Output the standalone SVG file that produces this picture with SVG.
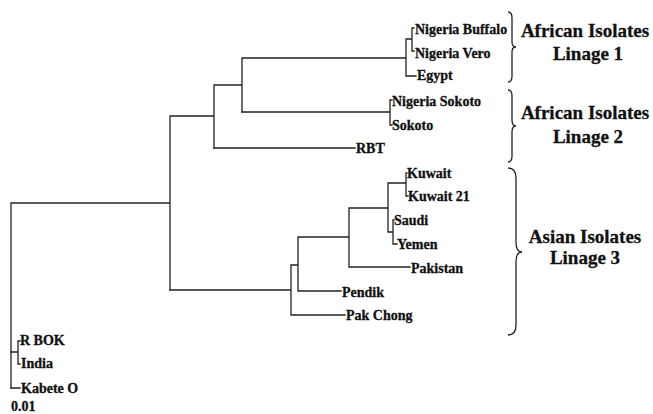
<svg xmlns="http://www.w3.org/2000/svg" width="653" height="414" viewBox="0 0 653 414">
<style>
.br{fill:none;stroke:#222;stroke-width:1.3;stroke-linecap:square}
.lb{font-family:"Liberation Serif","Times New Roman",serif;font-weight:bold;font-size:14px;fill:#111;stroke:#111;stroke-width:0.3}
.gp{font-family:"Liberation Serif","Times New Roman",serif;font-weight:bold;font-size:19px;fill:#111;stroke:#111;stroke-width:0.3;text-anchor:middle}
.bc{fill:none;stroke:#222;stroke-width:1.3}
</style>
<rect width="653" height="414" fill="#fff"/>
<g id="connectors">
<path class="br" d="M11,203V388M11,203H170M170,116V290M170,116H214M214,85V148M214,85H242M242,58V112M242,58H406M406,39V76M406,39H412M412,28V51M412,28H414M412,51H414M406,76H416"/>
<path class="br" d="M242,112H390M390,100V125M390,100H392M390,125H392M214,148H355"/>
<path class="br" d="M170,290H291M291,265V315M291,265H298M298,237V291M291,315H345M298,291H341M298,237H349M349,208V267M349,267H410M349,208H388M388,183V232M388,183H406M406,173V196M406,173H407M406,196H408M388,232H393M393,220V244M393,220H394M393,244H397"/>
<path class="br" d="M11,352H18M18,341V364M18,341H20M18,364H20M11,388H20"/>
</g>
<g id="labels">
<text class="lb" x="415" y="34">Nigeria Buffalo</text>
<text class="lb" x="415" y="58">Nigeria Vero</text>
<text class="lb" x="417" y="80">Egypt</text>
<text class="lb" x="392" y="106">Nigeria Sokoto</text>
<text class="lb" x="392" y="130">Sokoto</text>
<text class="lb" x="356" y="153">RBT</text>
<text class="lb" x="407" y="178">Kuwait</text>
<text class="lb" x="408" y="201">Kuwait 21</text>
<text class="lb" x="394" y="225">Saudi</text>
<text class="lb" x="397" y="249">Yemen</text>
<text class="lb" x="411" y="273">Pakistan</text>
<text class="lb" x="342" y="297">Pendik</text>
<text class="lb" x="346" y="320">Pak Chong</text>
<text class="lb" x="20" y="345">R BOK</text>
<text class="lb" x="21" y="368">India</text>
<text class="lb" x="21" y="393">Kabete O</text>
<text class="lb" x="11" y="411">0.01</text>
</g>
<g id="group1">
<path class="bc" d="M508,12Q512,12 512,18L512,42Q512,47 516,47Q512,47 512,52L512,76Q512,82 508,82"/>
<text class="gp" x="585" y="37">African Isolates</text>
<text class="gp" x="588" y="60">Linage 1</text>
</g>
<g id="group2">
<path class="bc" d="M508,90Q512,90 512,96L512,120Q512,126 516,126Q512,126 512,132L512,156Q512,162 508,162"/>
<text class="gp" x="585" y="119">African Isolates</text>
<text class="gp" x="588" y="143">Linage 2</text>
</g>
<g id="group3">
<path class="bc" d="M508,168Q516,168 516,178L516,242Q516,252 522,252Q516,252 516,262L516,325Q516,335 508,335"/>
<text class="gp" x="585" y="243">Asian Isolates</text>
<text class="gp" x="585" y="264">Linage 3</text>
</g>
</svg>
